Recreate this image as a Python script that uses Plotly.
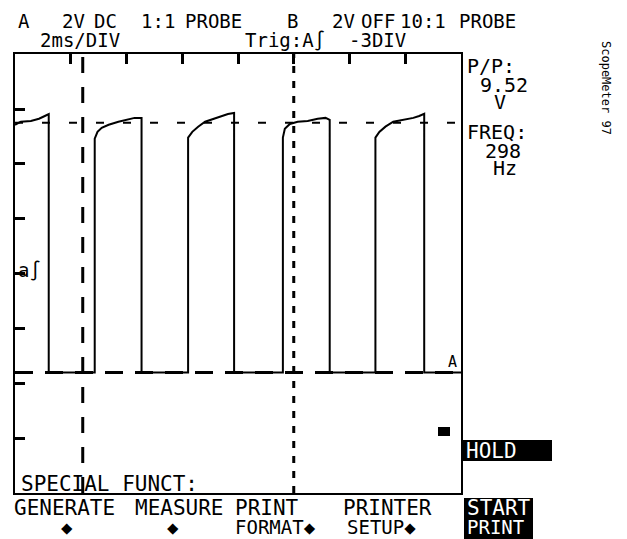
import plotly.graph_objects as go

# ---- data (time in ms, voltage in V) ----
time_ms = [0.00, 0.21, 0.57, 0.86, 1.07, 1.21, 1.21, 2.86,
           2.86, 2.96, 3.11, 3.36, 3.71, 4.04, 4.29, 4.54, 4.54, 6.21,
           6.21, 6.36, 6.57, 6.82, 7.14, 7.43, 7.64, 7.86, 7.86, 9.61,
           9.61, 9.68, 9.86, 10.14, 10.50, 10.86, 11.14, 11.29, 11.29, 12.93,
           12.93, 13.07, 13.29, 13.57, 13.93, 14.29, 14.50, 14.68, 14.68, 16.00]
volts = [9.04, 9.15, 9.18, 9.26, 9.36, 9.43, 0.00, 0.00,
         8.53, 8.78, 8.93, 9.04, 9.15, 9.22, 9.29, 9.29, 0.00, 0.00,
         8.57, 8.78, 8.97, 9.15, 9.26, 9.36, 9.43, 9.47, 0.00, 0.00,
         8.57, 8.89, 9.07, 9.15, 9.18, 9.26, 9.29, 9.22, 0.00, 0.00,
         8.57, 8.78, 8.97, 9.15, 9.22, 9.29, 9.36, 9.44, 0.00, 0.00]

x_range_ms = [0, 16]
y_range_v = [-4.39, 11.62]
time_ticks_ms = [0, 2, 4, 6, 8, 10, 12, 14, 16]
ground_v = 0.0
ref_level_v = 9.11
trigger_ms = 2.43
cursor_ms = 10.0

header_words = ["A", "2V", "DC", "1:1", "PROBE", "B", "2V", "OFF", "10:1", "PROBE"]
line2_words = ["2ms/DIV", "Trig:A∫", "-3DIV"]
readout_texts = ["P/P:", "9.52", "V", "FREQ:", "298", "Hz"]
menu_top = ["GENERATE", "MEASURE", "PRINT", "PRINTER"]
menu_bottom = ["◆", "◆", "FORMAT◆", "SETUP◆"]

FONT = "DejaVu Sans Mono"
# page body has an 8px margin, so the figure starts 8px in
PAGE_OFF = 8
FW, FH = 627 - PAGE_OFF, 539 - PAGE_OFF
# plot area in screen pixels
SL, SR, ST, SB = 15, 461, 54, 493


def px(x):
    return (x - SL) / (SR - SL)


def py(y):
    return (SB - y) / (SB - ST)


fig = go.Figure()

fig.add_trace(go.Scatter(x=x_range_ms, y=[ground_v, ground_v], mode="lines",
                         line=dict(color="black", width=3, dash="18px,12px"),
                         hoverinfo="skip"))
fig.add_trace(go.Scatter(x=x_range_ms, y=[ref_level_v, ref_level_v], mode="lines",
                         line=dict(color="black", width=2, dash="8px,19px"),
                         hoverinfo="skip"))
fig.add_trace(go.Scatter(x=[trigger_ms, trigger_ms], y=y_range_v, mode="lines",
                         line=dict(color="black", width=3, dash="16px,14px"),
                         hoverinfo="skip"))
fig.add_trace(go.Scatter(x=[cursor_ms, cursor_ms], y=y_range_v, mode="lines",
                         line=dict(color="black", width=3, dash="7px,8px"),
                         hoverinfo="skip"))
fig.add_trace(go.Scatter(x=time_ms, y=volts, mode="lines",
                         line=dict(color="black", width=2),
                         hoverinfo="skip"))

ann = []


def text(s, x, y, size=21, color="black", xanchor="left", angle=0):
    ann.append(dict(text=s, x=px(x), y=py(y), xref="paper", yref="paper",
                    xanchor=xanchor, yanchor="middle", showarrow=False,
                    textangle=angle, borderpad=0,
                    font=dict(family=FONT, size=size, color=color)))


for s, x in zip(header_words, [17, 61, 93, 140, 184, 286, 331, 360, 399, 458]):
    text(s, x, 21, size=19)
for s, x in zip(line2_words, [39, 244, 348]):
    text(s, x, 40, size=19)
for s, x, y in zip(readout_texts, [466, 479, 493, 466, 484, 492],
                   [66, 85, 102, 132, 151, 168]):
    text(s, x, y, size=20)
text("ScopeMeter 97", 606, 88, size=12, xanchor="center", angle=90)
text("a∫", 17, 270, size=19)
text("A", 447, 362, size=15)
text("SPECIAL FUNCT:", 20, 484)
for s, x in zip(menu_top, [13, 134, 234, 342]):
    text(s, x, 508)
for s, x in zip(menu_bottom, [60, 166, 234, 346]):
    text(s, x, 527, size=19)
text("HOLD", 465, 451, color="white")
text("START", 466, 508, color="white")
text("PRINT", 466, 527, size=19, color="white")

shapes = [
    dict(type="rect", xref="paper", yref="paper", x0=px(463), x1=px(552),
         y0=py(461), y1=py(440), fillcolor="black", line=dict(width=0), layer="below"),
    dict(type="rect", xref="paper", yref="paper", x0=px(464), x1=px(533),
         y0=py(539), y1=py(498), fillcolor="black", line=dict(width=0), layer="below"),
    dict(type="rect", xref="paper", yref="paper", x0=px(438), x1=px(450),
         y0=py(436), y1=py(427), fillcolor="black", line=dict(width=0)),
]

fig.update_layout(
    width=FW, height=FH,
    margin=dict(l=SL - PAGE_OFF, r=FW - (SR - PAGE_OFF), t=ST - PAGE_OFF,
                b=FH - (SB - PAGE_OFF), pad=0),
    paper_bgcolor="white", plot_bgcolor="white",
    showlegend=False,
    annotations=ann, shapes=shapes,
    xaxis=dict(range=x_range_ms, side="top", showgrid=False, zeroline=False,
               showline=True, linecolor="black", linewidth=2, mirror=True,
               ticks="inside", ticklen=10, tickwidth=3, tickcolor="black",
               tickvals=time_ticks_ms, showticklabels=False),
    yaxis=dict(range=y_range_v, showgrid=False, zeroline=False,
               showline=True, linecolor="black", linewidth=2, mirror=True,
               ticks="inside", ticklen=10, tickwidth=3, tickcolor="black",
               tick0=y_range_v[0], dtick=2, showticklabels=False),
)

fig.write_html("out.html")
